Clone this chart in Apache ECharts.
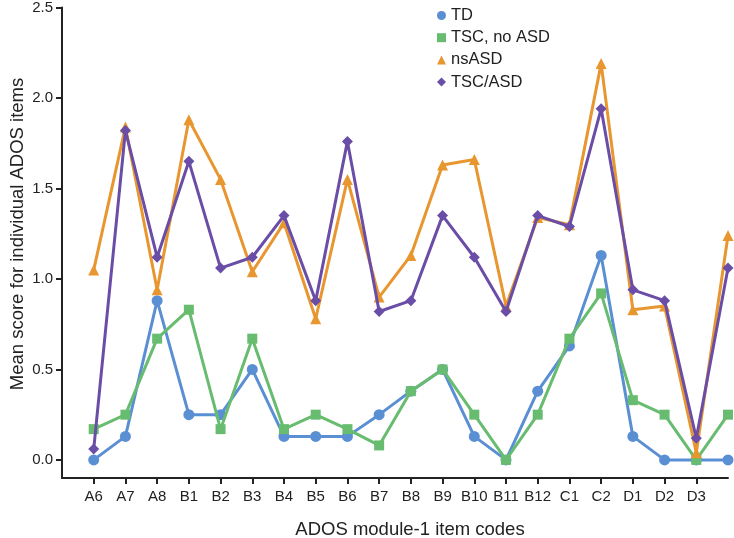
<!DOCTYPE html>
<html>
<head>
<meta charset="utf-8">
<script src="https://cdn.jsdelivr.net/npm/echarts@6/dist/echarts.min.js"></script>
<style>
html,body{margin:0;padding:0;background:#fff;}
#chart{width:734px;height:538px;}
</style>
</head>
<body>
<div id="chart"></div>
<script>
// Category labels (last point has no label in the original)
const categories = ['A6','A7','A8','B1','B2','B3','B4','B5','B6','B7','B8','B9','B10','B11','B12','C1','C2','D1','D2','D3',''];
const yTickValues = [0, 0.5, 1.0, 1.5, 2.0, 2.5];

const seriesNames = ['TD', 'TSC, no ASD', 'nsASD', 'TSC/ASD'];
const tdValues     = [0.00,0.13,0.88,0.25,0.25,0.50,0.13,0.13,0.13,0.25,0.38,0.50,0.13,0.00,0.38,0.63,1.13,0.13,0.00,0.00,0.00];
const tscNoAsd     = [0.17,0.25,0.67,0.83,0.17,0.67,0.17,0.25,0.17,0.08,0.38,0.50,0.25,0.00,0.25,0.67,0.92,0.33,0.25,0.00,0.25];
const nsAsdValues  = [1.05,1.84,0.94,1.88,1.55,1.04,1.31,0.78,1.55,0.90,1.13,1.63,1.66,0.85,1.34,1.30,2.19,0.83,0.85,0.04,1.24];
const tscAsdValues = [0.06,1.82,1.12,1.65,1.06,1.12,1.35,0.88,1.76,0.82,0.88,1.35,1.12,0.82,1.35,1.29,1.94,0.94,0.88,0.12,1.06];

const colors = ['#5b8fd3', '#68bc6f', '#e8962f', '#6a4da6'];
const symbols = ['circle', 'rect', 'triangle', 'diamond'];
const symbolSizes = [11, 10, 11, 11];
const allValues = [tdValues, tscNoAsd, nsAsdValues, tscAsdValues];

const labelledIdx = categories.map((c, i) => c ? i : null).filter(v => v !== null);

const chart = echarts.init(document.getElementById('chart'), null, {renderer: 'canvas'});
const axisColor = '#222';
const font = 'Liberation Sans, Arial, Helvetica, sans-serif';

chart.setOption({
  animation: false,
  backgroundColor: '#fff',
  textStyle: {fontFamily: font},
  grid: {left: 62, right: 6, top: 7, bottom: 60, containLabel: false},
  legend: {
    orient: 'vertical',
    left: 432,
    top: 2,
    itemWidth: 9,
    itemHeight: 9,
    itemGap: 5.2,
    textStyle: {fontSize: 16.5, lineHeight: 16, color: '#222', fontFamily: font},
    data: seriesNames.map((n, i) => ({name: n, icon: symbols[i]}))
  },
  xAxis: {
    type: 'value',
    min: -1,
    max: categories.length - 1,
    splitLine: {show: false},
    axisLine: {show: true, onZero: false, lineStyle: {color: axisColor, width: 2}},
    axisTick: {show: true, length: 6, lineStyle: {color: axisColor, width: 2}, customValues: labelledIdx},
    axisLabel: {
      customValues: labelledIdx,
      formatter: v => categories[v] || '',
      fontSize: 15, color: '#222', margin: 11, fontFamily: font
    }
  },
  yAxis: {
    type: 'value',
    min: -0.1,
    max: 2.5,
    splitLine: {show: false},
    axisLine: {show: true, onZero: false, lineStyle: {color: axisColor, width: 2}},
    axisTick: {show: true, length: 6, lineStyle: {color: axisColor, width: 2}, customValues: yTickValues},
    axisLabel: {
      customValues: yTickValues,
      formatter: v => v.toFixed(1),
      fontSize: 15, color: '#222', margin: 9, fontFamily: font
    }
  },
  graphic: [
    {
      type: 'text',
      x: 410, y: 530,
      style: {text: 'ADOS module-1 item codes', fontSize: 18.5, fill: '#222', fontFamily: font, textAlign: 'center', textVerticalAlign: 'middle'}
    },
    {
      type: 'text',
      x: 18, y: 234,
      rotation: Math.PI / 2,
      style: {text: 'Mean score for individual ADOS items', fontSize: 18.5, fill: '#222', fontFamily: font, textAlign: 'center', textVerticalAlign: 'middle'}
    }
  ],
  series: allValues.map((vals, i) => ({
    name: seriesNames[i],
    type: 'line',
    data: vals.map((v, j) => [j, v]),
    symbol: symbols[i],
    symbolSize: symbolSizes[i],
    showAllSymbol: true,
    lineStyle: {color: colors[i], width: 3},
    itemStyle: {color: colors[i], borderWidth: 0},
    emphasis: {disabled: true},
    z: 2 + i
  }))
});
</script>
</body>
</html>
